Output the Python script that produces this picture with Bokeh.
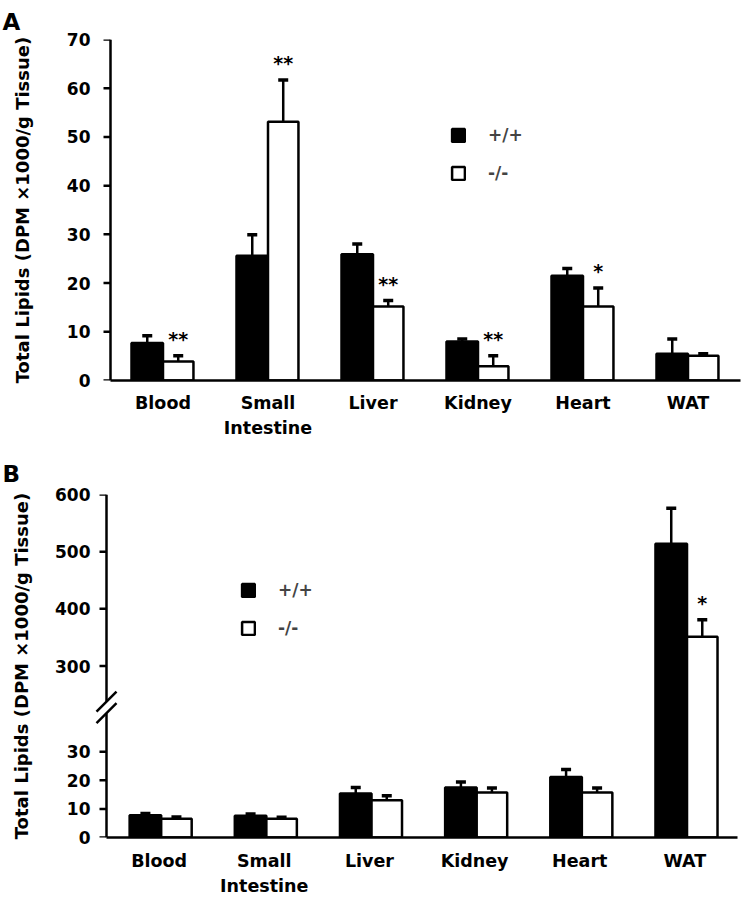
import numpy as np
from bokeh.plotting import figure
from bokeh.models import (ColumnDataSource, FixedTicker, Legend, LegendItem,
                          Range1d, Whisker, TeeHead)
from bokeh.layouts import column
from bokeh.core.properties import value
from bokeh.embed import file_html
from bokeh.resources import INLINE

# ---------------- data ----------------
tissues = ["Blood", "Small\nIntestine", "Liver", "Kidney", "Heart", "WAT"]
genotypes = ["+/+", "-/-"]

# Panel A (DPM x1000 / g tissue)
a_wt = [7.7, 25.6, 25.9, 8.0, 21.5, 5.5]
a_wt_sem = [1.5, 4.3, 2.1, 0.5, 1.5, 3.0]
a_ko = [3.9, 53.1, 15.2, 2.9, 15.2, 5.1]
a_ko_sem = [1.2, 8.6, 1.2, 2.2, 3.8, 0.4]
a_sig = ["**", "**", "**", "**", "*", ""]
a_yticks = [0, 10, 20, 30, 40, 50, 60, 70]

# Panel B (DPM x1000 / g tissue), broken axis
b_wt = [7.8, 7.6, 15.4, 17.5, 21.2, 514]
b_wt_sem = [0.6, 0.6, 2.1, 1.9, 2.6, 62]
b_ko = [6.6, 6.6, 13.0, 15.7, 15.7, 351]
b_ko_sem = [0.6, 0.5, 1.6, 1.6, 1.6, 30]
b_sig = ["", "", "", "", "", "*"]
b_lower_ticks = [0, 10, 20, 30]
b_upper_ticks = [300, 400, 500, 600]

FONT = "DejaVu Sans"
YTITLE = "Total Lipids (DPM \u00d71000/g Tissue)"

# broken-axis mapping for panel B: lower part linear, upper part compressed
B_SPLIT = 100.0
B_UPPER_REF, B_UPPER_POS, B_UPPER_SCALE = 300.0, 60.0, 0.2


def by(v):
    v = np.asarray(v, dtype=float)
    return np.where(v <= B_SPLIT, v, B_UPPER_POS + (v - B_UPPER_REF) * B_UPPER_SCALE)


# layout (pixels)
W = 745
FRAME_LEFT, FRAME_RIGHT = 92, 740
N = len(tissues)


def make_fig(height, top, bottom, axis_px, end_px, y_end):
    unit = (end_px - axis_px) / N
    x0 = -(axis_px - FRAME_LEFT) / unit
    x1 = N + (FRAME_RIGHT - end_px) / unit
    p = figure(width=W, height=height, x_range=Range1d(x0, x1), y_range=Range1d(0, y_end),
               output_backend="svg", toolbar_location=None,
               min_border_left=FRAME_LEFT, min_border_right=W - FRAME_RIGHT,
               min_border_top=top, min_border_bottom=bottom)
    return p, unit


def style_axes(p, ylabel_standoff, xlabel_standoff):
    p.xgrid.visible = False
    p.ygrid.visible = False
    p.outline_line_color = None
    p.background_fill_color = "white"
    p.border_fill_color = "white"
    for ax in (p.xaxis[0], p.yaxis[0]):
        ax.axis_line_width = 2.5
        ax.axis_line_color = "black"
        ax.minor_tick_line_color = None
        ax.major_label_text_font = FONT
        ax.major_label_text_font_style = "bold"
        ax.major_label_text_color = "black"
    p.xaxis.major_tick_out = 0
    p.xaxis.major_tick_in = 0
    p.xaxis.bounds = (0, N)
    p.xaxis.major_label_text_font_size = "17.5px"
    p.xaxis.major_label_text_line_height = 1.25
    p.xaxis.major_label_standoff = xlabel_standoff
    p.xaxis.ticker = FixedTicker(ticks=[i + 0.5 for i in range(N)])
    p.xaxis.major_label_overrides = {i + 0.5: t for i, t in enumerate(tissues)}
    # y axis: labels/title from bokeh, line + ticks drawn at data x = 0
    p.yaxis.axis_line_alpha = 0
    p.yaxis.major_tick_out = 0
    p.yaxis.major_tick_in = 0
    p.yaxis.major_label_text_font_size = "17px"
    p.yaxis.major_label_standoff = 2
    p.yaxis.axis_label = YTITLE
    p.yaxis.axis_label_text_font = FONT
    p.yaxis.axis_label_text_font_style = "bold"
    p.yaxis.axis_label_text_font_size = "18px"
    p.yaxis.axis_label_text_color = "black"
    p.yaxis.axis_label_standoff = ylabel_standoff


def draw_yaxis(p, unit, tick_pos, pieces):
    tl = 7 / unit
    p.segment(x0=[0] * len(pieces), y0=[a for a, b in pieces],
              x1=[0] * len(pieces), y1=[b for a, b in pieces],
              line_color="black", line_width=2.5)
    p.segment(x0=[-tl] * len(tick_pos), y0=tick_pos, x1=[0] * len(tick_pos), y1=tick_pos,
              line_color="black", line_width=2.5)


def panel_letter(p, letter, standoff):
    p.title.text = letter
    p.title.align = "left"
    p.title.offset = 2 - FRAME_LEFT
    p.title.standoff = standoff
    p.title.text_font = FONT
    p.title.text_font_style = "bold"
    p.title.text_font_size = "23px"
    p.title.text_line_height = 1.0
    p.title.text_color = "black"


def add_bars(p, wt, wt_sem, ko, ko_sem, sig, tf, legend_loc, shift=0.0):
    xc = np.arange(N) + 0.5 + shift
    wt = np.asarray(wt, float); ko = np.asarray(ko, float)
    wt_hi = wt + np.asarray(wt_sem, float)
    ko_hi = ko + np.asarray(ko_sem, float)
    src_wt = ColumnDataSource(dict(x=xc - 0.15, top=tf(wt), hi=tf(wt_hi)))
    src_ko = ColumnDataSource(dict(x=xc + 0.145, top=tf(ko), hi=tf(ko_hi), sig=sig))
    r_wt = p.vbar(x="x", top="top", bottom=0, width=0.30, source=src_wt,
                  fill_color="black", line_color="black", line_width=2.5)
    r_ko = p.vbar(x="x", top="top", bottom=0, width=0.29, source=src_ko,
                  fill_color="white", line_color="black", line_width=2.5)
    for src in (src_wt, src_ko):
        w = Whisker(base="x", lower="top", upper="hi", source=src,
                    line_color="black", line_width=2.5,
                    lower_head=None,
                    upper_head=TeeHead(size=10, line_width=3.5, line_color="black"))
        p.add_layout(w)
    p.text(x="x", y="hi", text="sig", source=src_ko, text_align="center",
           text_baseline="alphabetic", y_offset=-17,
           text_font=value(FONT), text_font_style="bold",
           text_font_size="19px", text_color="black")
    leg = Legend(items=[LegendItem(label=genotypes[0], renderers=[r_wt]),
                        LegendItem(label=genotypes[1], renderers=[r_ko])],
                 location=legend_loc, padding=0, margin=0, spacing=18,
                 glyph_width=16, glyph_height=16, label_height=16,
                 label_standoff=22, border_line_color=None,
                 background_fill_alpha=0, label_text_font=FONT,
                 label_text_font_style="bold", label_text_font_size="17px")
    p.add_layout(leg)


# ---------------- panel A ----------------
pA, uA = make_fig(448, 39, 68, axis_px=110, end_px=740, y_end=70)
style_axes(pA, ylabel_standoff=31, xlabel_standoff=12)
pA.yaxis.ticker = FixedTicker(ticks=a_yticks)
draw_yaxis(pA, uA, a_yticks, [(0, 70)])
add_bars(pA, a_wt, a_wt_sem, a_ko, a_ko_sem, a_sig, lambda v: v, (450 - FRAME_LEFT, 197))
panel_letter(pA, "A", 9)

# ---------------- panel B ----------------
y_top_B = float(by(600))
pB, uB = make_fig(451, 46, 62, axis_px=106, end_px=737, y_end=y_top_B)
style_axes(pB, ylabel_standoff=20, xlabel_standoff=13)
tick_vals = list(b_lower_ticks) + list(b_upper_ticks)
tick_pos = [float(by(t)) for t in tick_vals]
pB.yaxis.ticker = FixedTicker(ticks=tick_pos)
pB.yaxis.major_label_overrides = {pos: str(t) for pos, t in zip(tick_pos, tick_vals)}
brk_lo, brk_hi = 43.5, 47.5
draw_yaxis(pB, uB, tick_pos, [(0, brk_lo), (brk_hi, y_top_B)])
dx = 10 / uB
dy = 3.5
pB.segment(x0=[-dx, -dx], y0=[brk_lo - dy, brk_hi - dy], x1=[dx, dx],
           y1=[brk_lo + dy, brk_hi + dy], line_color="black", line_width=2.5)
add_bars(pB, b_wt, b_wt_sem, b_ko, b_ko_sem, b_sig, by, (240 - FRAME_LEFT, 199), shift=0.02)
panel_letter(pB, "B", 15)

layout = column(pA, pB, spacing=0)
open("out.html", "w").write(file_html(layout, INLINE, "Total lipids"))
